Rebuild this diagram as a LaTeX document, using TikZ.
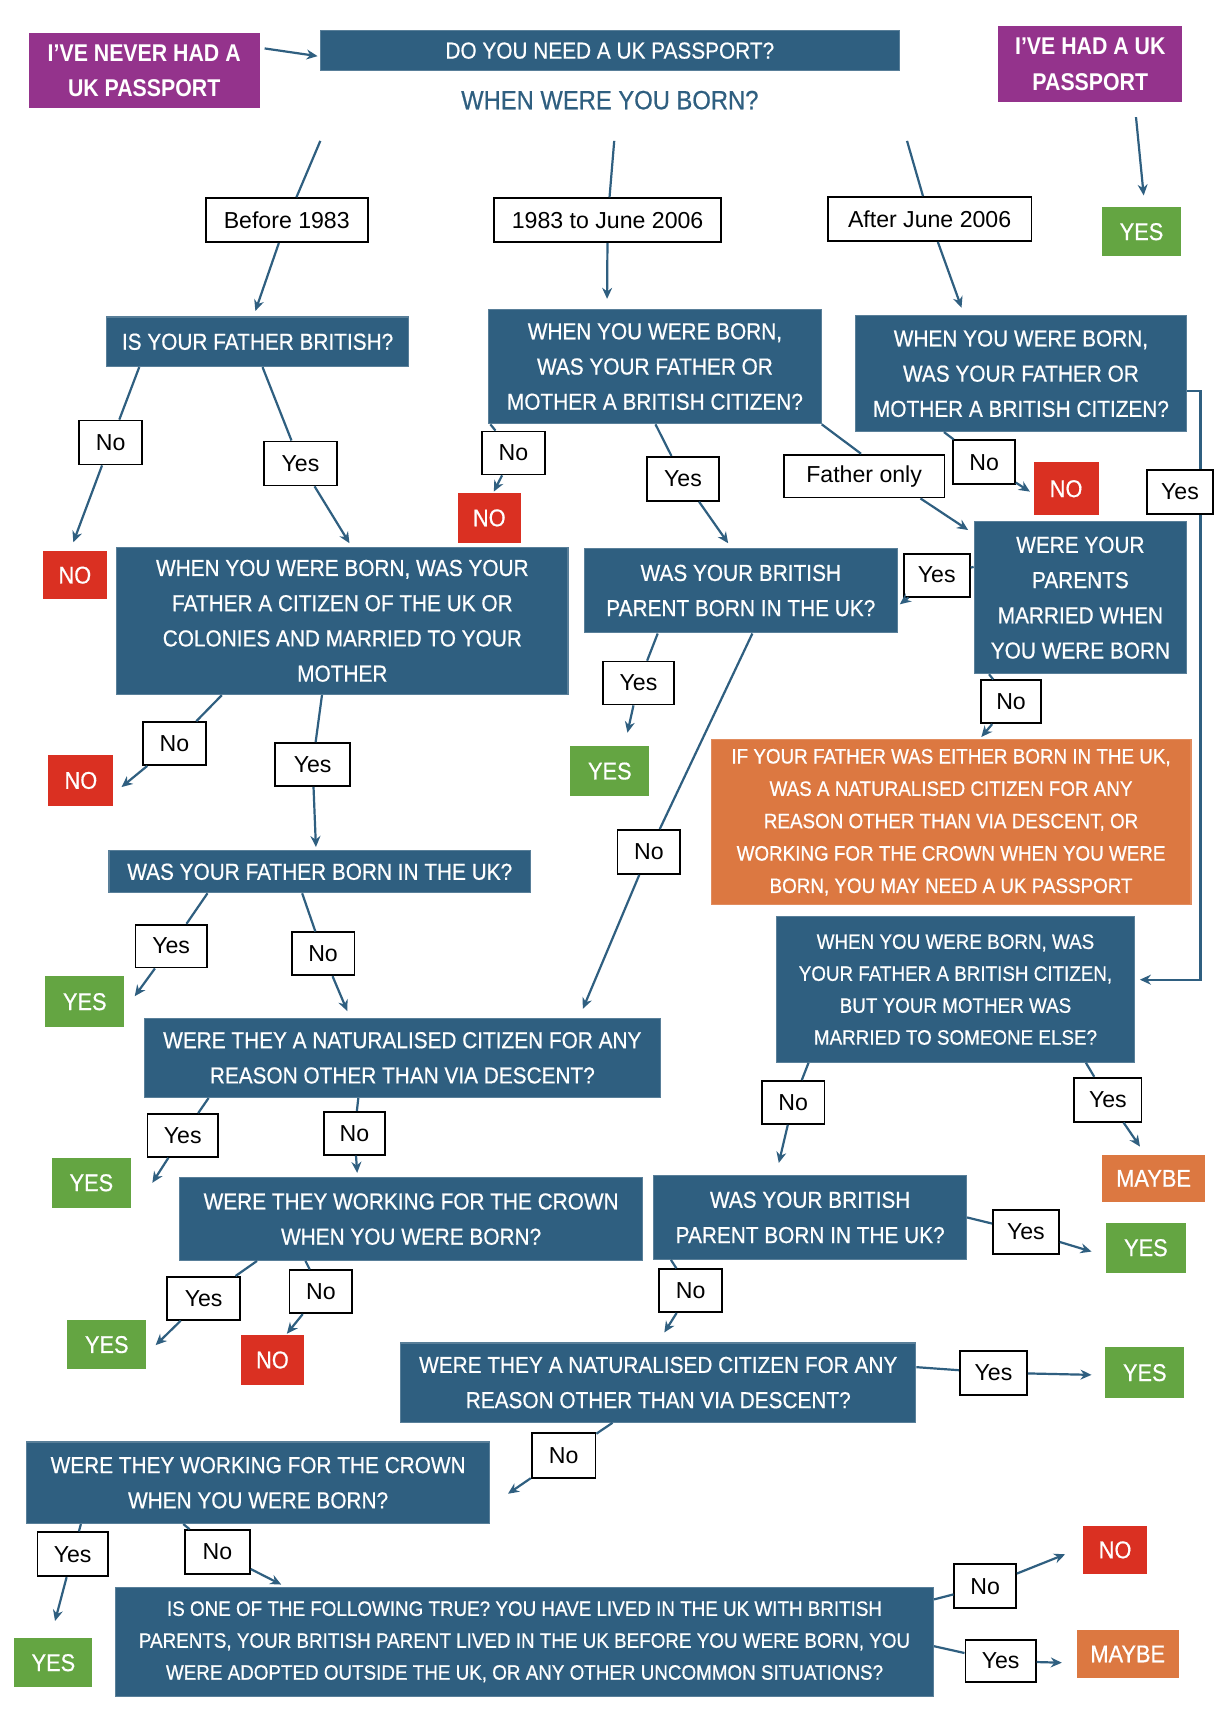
\documentclass[tikz,border=0pt]{standalone}
\usepackage{fontspec}
\setmainfont{Liberation Sans}
\newfontfamily\bxf[FakeStretch=0.9,FakeBold=0.6]{Liberation Sans}
\newfontfamily\pxf[FakeStretch=0.88]{Liberation Sans}
\usetikzlibrary{arrows.meta}
\definecolor{qblue}{HTML}{2F5F80}
\definecolor{ppurple}{HTML}{94338C}
\definecolor{agreen}{HTML}{64A542}
\definecolor{ared}{HTML}{DA3022}
\definecolor{aorange}{HTML}{DC7841}
\newcommand\mkbox[7]{\node[#6, minimum width={(#4-#2)*0.5pt}, minimum height={(#5-#3)*0.5pt}] (#1) at ({(#2+#4)/2},{(#3+#5)/2}) {#7};}
\tikzset{
 qbox/.style={fill=qblue, draw=qblue!80!white, line width=0.5pt, text=white, align=center, inner sep=0pt, font=\bxf\fontsize{10.5pt}{16pt}\selectfont},
 qsmall/.style={qbox, font=\bxf\fontsize{9.5pt}{14.5pt}\selectfont},
 obox/.style={fill=aorange, draw=aorange!85!white, line width=0.5pt, text=white, align=center, inner sep=0pt, font=\bxf\fontsize{9.5pt}{14.7pt}\selectfont},
 lab/.style={fill=white, draw=black, line width=0.8pt, inner sep=0pt, font=\fontsize{10.5pt}{12pt}\selectfont},
 ans/.style={text=white, inner sep=0pt, font=\bxf\fontsize{11pt}{13pt}\selectfont},
 yesbox/.style={ans, fill=agreen},
 nobox/.style={ans, fill=ared},
 maybebox/.style={ans, fill=aorange},
 pbox/.style={fill=ppurple, text=white, align=center, inner sep=0pt, font=\pxf\bfseries\fontsize{11pt}{16pt}\selectfont},
 borntext/.style={text=qblue, inner sep=0pt, font=\bxf\fontsize{12pt}{14pt}\selectfont},
 conn/.style={draw=qblue, line width=1pt},
 arr/.style={conn, -{Stealth[length=5pt,width=4.5pt]}},
}
\begin{document}
\begin{tikzpicture}[x=0.5pt,y=-0.5pt]
\useasboundingbox (0,0) rectangle (1108,1568);
\fill[white] (0,0) rectangle (1108,1568);
% top
\mkbox{never}{26}{30}{236}{98}{pbox}{I’VE NEVER HAD A\\UK PASSPORT}
\mkbox{had}{907}{24}{1074}{93}{pbox}{I’VE HAD A UK\\PASSPORT}
\mkbox{need}{291}{28}{817}{64}{qbox}{DO YOU NEED A UK PASSPORT?}
\node[borntext] (born) at (554,91) {WHEN WERE YOU BORN?};
\mkbox{yes0}{1001}{188}{1073}{233}{yesbox}{YES}
\draw[arr] ([shift={(4,-20)}]never.east) -- ([shift={(-2,5)}]need.west);
\draw[arr] ([shift={(41.5,13)}]had.south) -- ([shift={(2,-10)}]yes0.north);
\coordinate (t1) at (291,128);
\coordinate (t2) at (558,128);
\coordinate (t3) at (824,128);
\mkbox{l1983}{187}{180}{334}{220}{lab}{Before 1983}
\mkbox{l2006}{449}{180}{655}{220}{lab}{1983 to June 2006}
\mkbox{lafter}{752}{179}{937}{219}{lab}{After June 2006}
% level 2 boxes
\mkbox{fbrit}{97}{288}{371}{333}{qbox}{IS YOUR FATHER BRITISH?}
\mkbox{mid}{444}{281}{746}{385}{qbox}{WHEN YOU WERE BORN,\\WAS YOUR FATHER OR\\MOTHER A BRITISH CITIZEN?}
\mkbox{rt}{777}{287}{1078}{392}{qbox}{WHEN YOU WERE BORN,\\WAS YOUR FATHER OR\\MOTHER A BRITISH CITIZEN?}
\draw[conn] (t1) -- (l1983);
\draw[arr] (l1983) -- ([shift={(-2,-5)}]fbrit.north);
\draw[conn] (t2) -- (l2006);
\draw[arr] (l2006) -- ([shift={(108,-9)}]mid.north west);
\draw[conn] (t3) -- (lafter);
\draw[arr] (lafter) -- ([shift={(97,-7)}]rt.north west);
% left branch
\mkbox{lno1}{72}{382}{129}{422}{lab}{No}
\mkbox{no1}{39}{501}{97}{544}{nobox}{NO}
\mkbox{lyes1}{240}{401}{306}{441}{lab}{Yes}
\mkbox{colon}{106}{497}{516}{631}{qbox}{WHEN YOU WERE BORN, WAS YOUR\\FATHER A CITIZEN OF THE UK OR\\COLONIES AND MARRIED TO YOUR\\MOTHER}
\draw[conn] ([shift={(30,0)}]fbrit.south west) -- (lno1);
\draw[arr] (lno1) -- ([shift={(28,-8)}]no1.north west);
\draw[conn] ([shift={(142,0)}]fbrit.south west) -- (lyes1);
\draw[arr] (lyes1) -- ([shift={(212,-3)}]colon.north west);
\mkbox{lno11}{130}{656}{187}{695}{lab}{No}
\mkbox{no11}{44}{686}{103}{732}{nobox}{NO}
\mkbox{lyes11}{250}{675}{318}{714}{lab}{Yes}
\mkbox{fborn}{99}{773}{482}{811}{qbox}{WAS YOUR FATHER BORN IN THE UK?}
\draw[conn] ([shift={(96,0)}]colon.south west) -- (lno11);
\draw[arr] (lno11) -- ([shift={(7,6)}]no11.east);
\draw[conn] ([shift={(187,0)}]colon.south west) -- (lyes11);
\draw[arr] (lyes11) -- ([shift={(-3.5,-3)}]fborn.north);
\mkbox{lyes12}{123}{840}{188}{879}{lab}{Yes}
\mkbox{yes12}{41}{887}{113}{933}{yesbox}{YES}
\mkbox{lno12}{265}{847}{322}{886}{lab}{No}
\mkbox{nat1}{131}{925}{600}{997}{qbox}{WERE THEY A NATURALISED CITIZEN FOR ANY\\REASON OTHER THAN VIA DESCENT?}
\draw[conn] ([shift={(90,0)}]fborn.south west) -- (lyes12);
\draw[arr] (lyes12) -- ([shift={(9,-5)}]yes12.east);
\draw[conn] ([shift={(176,0)}]fborn.south west) -- (lno12);
\draw[arr] (lno12) -- ([shift={(185,-6)}]nat1.north west);
\mkbox{lyes13}{134}{1012}{198}{1051}{lab}{Yes}
\mkbox{yes13}{47}{1052}{119}{1097}{yesbox}{YES}
\mkbox{lno13}{294}{1010}{350}{1049}{lab}{No}
\mkbox{crown1}{163}{1070}{584}{1145}{qbox}{WERE THEY WORKING FOR THE CROWN\\WHEN YOU WERE BORN?}
\draw[conn] ([shift={(59,0)}]nat1.south west) -- (lyes13);
\draw[arr] (lyes13) -- ([shift={(19,0)}]yes13.east);
\draw[conn] ([shift={(195,0)}]nat1.south west) -- (lno13);
\draw[arr] (lno13) -- ([shift={(162,-4)}]crown1.north west);
\mkbox{lyes14}{152}{1160}{218}{1199}{lab}{Yes}
\mkbox{yes14}{61}{1199}{133}{1244}{yesbox}{YES}
\mkbox{lno14}{263}{1154}{320}{1193}{lab}{No}
\mkbox{no14}{219}{1213}{276}{1258}{nobox}{NO}
\draw[conn] ([shift={(71,0)}]crown1.south west) -- (lyes14);
\draw[arr] (lyes14) -- ([shift={(8,0.5)}]yes14.east);
\draw[conn] ([shift={(115,0)}]crown1.south west) -- (lno14);
\draw[arr] (lno14) -- ([shift={(42,-1)}]no14.north west);
% middle branch
\mkbox{lno2}{438}{392}{495}{431}{lab}{No}
\mkbox{no2}{416}{448}{473}{493}{nobox}{NO}
\mkbox{lyes2}{588}{415}{653}{455}{lab}{Yes}
\mkbox{lfo}{712}{413}{858}{452}{lab}{Father only}
\mkbox{bp1}{531}{498}{815}{575}{qbox}{WAS YOUR BRITISH\\PARENT BORN IN THE UK?}
\mkbox{married}{885}{474}{1078}{612}{qbox}{WERE YOUR\\PARENTS\\MARRIED WHEN\\YOU WERE BORN}
\draw[conn] ([shift={(2,0)}]mid.south west) -- (lno2);
\draw[arr] (lno2) -- ([shift={(33,-1)}]no2.north west);
\draw[conn] ([shift={(152,0)}]mid.south west) -- (lyes2);
\draw[arr] (lyes2) -- ([shift={(131,-4)}]bp1.north west);
\draw[conn] (mid.south east) -- ([shift={(71,0)}]lfo.north west);
\draw[arr] ([shift={(125,0)}]lfo.south west) -- ([shift={(-5,8)}]married.north west);
% right branch
\mkbox{lno3}{866}{400}{922}{440}{lab}{No}
\mkbox{no3}{939}{420}{998}{468}{nobox}{NO}
\mkbox{else}{705}{833}{1031}{965}{qsmall}{WHEN YOU WERE BORN, WAS\\YOUR FATHER A BRITISH CITIZEN,\\BUT YOUR MOTHER WAS\\MARRIED TO SOMEONE ELSE?}
\draw[conn] ([shift={(81,0)}]rt.south west) -- (lno3);
\draw[arr] (lno3) -- ([shift={(-3,27)}]no3.north west);
\draw[arr] ([shift={(0,16)}]rt.east) -- ++(12,0) |- ([shift={(4,-9)}]else.east);
\mkbox{lyes3}{1042}{427}{1102}{467}{lab}{Yes}
\mkbox{lyes4}{821}{503}{881}{542}{lab}{Yes}
\mkbox{lno4}{891}{618}{946}{657}{lab}{No}
\mkbox{orange}{646}{672}{1082}{822}{obox}{IF YOUR FATHER WAS EITHER BORN IN THE UK,\\WAS A NATURALISED CITIZEN FOR ANY\\REASON OTHER THAN VIA DESCENT, OR\\WORKING FOR THE CROWN WHEN YOU WERE\\BORN, YOU MAY NEED A UK PASSPORT}
\draw[conn] ([shift={(0,-28)}]married.west) -- (lyes4);
\draw[arr] (lyes4) -- ([shift={(2,12.5)}]bp1.east);
\draw[conn] ([shift={(14,0)}]married.south west) -- (lno4);
\draw[arr] (lno4) -- ([shift={(246,-2)}]orange.north west);
\mkbox{lyes5}{548}{601}{612}{640}{lab}{Yes}
\mkbox{yes5}{518}{678}{590}{723}{yesbox}{YES}
\mkbox{lno5}{561}{754}{618}{794}{lab}{No}
\draw[conn] ([shift={(67,0)}]bp1.south west) -- (lyes5);
\draw[arr] (lyes5) -- ([shift={(16,-12)}]yes5.north);
\draw[conn] ([shift={(153,0)}]bp1.south west) -- (lno5);
\draw[arr] (lno5) -- ([shift={(399,-8)}]nat1.north west);
% lower right
\mkbox{lno6}{692}{982}{749}{1021}{lab}{No}
\mkbox{lyes6}{976}{979}{1037}{1019}{lab}{Yes}
\mkbox{maybe1}{1001}{1049}{1095}{1092}{maybebox}{MAYBE}
\mkbox{bp2}{594}{1068}{878}{1144}{qbox}{WAS YOUR BRITISH\\PARENT BORN IN THE UK?}
\draw[conn] ([shift={(30,0)}]else.south west) -- (lno6);
\draw[arr] (lno6) -- ([shift={(114,-11)}]bp2.north west);
\draw[conn] ([shift={(282,0)}]else.south west) -- (lyes6);
\draw[arr] (lyes6) -- ([shift={(35,-7)}]maybe1.north west);
\mkbox{lyes7}{902}{1099}{962}{1139}{lab}{Yes}
\mkbox{yes7}{1005}{1111}{1077}{1156}{yesbox}{YES}
\mkbox{lno7}{599}{1153}{656}{1192}{lab}{No}
\mkbox{nat2}{364}{1220}{832}{1292}{qbox}{WERE THEY A NATURALISED CITIZEN FOR ANY\\REASON OTHER THAN VIA DESCENT?}
\draw[conn] (bp2.east) -- (lyes7);
\draw[arr] (lyes7) -- ([shift={(-13,3.5)}]yes7.west);
\draw[conn] ([shift={(16,0)}]bp2.south west) -- (lno7);
\draw[arr] (lno7) -- ([shift={(240,-9)}]nat2.north west);
\mkbox{lyes8}{872}{1227}{933}{1267}{lab}{Yes}
\mkbox{yes8}{1004}{1224}{1076}{1270}{yesbox}{YES}
\mkbox{lno8}{483}{1302}{541}{1343}{lab}{No}
\mkbox{crown2}{24}{1310}{445}{1384}{qbox}{WERE THEY WORKING FOR THE CROWN\\WHEN YOU WERE BORN?}
\draw[conn] ([shift={(0,-14)}]nat2.east) -- (lyes8);
\draw[arr] (lyes8) -- ([shift={(-12,2)}]yes8.west);
\draw[conn] ([shift={(193,0)}]nat2.south west) -- (lno8);
\draw[arr] (lno8) -- ([shift={(16,10)}]crown2.east);
% bottom
\mkbox{lyes9}{34}{1392}{98}{1432}{lab}{Yes}
\mkbox{yes9}{13}{1488}{84}{1533}{yesbox}{YES}
\mkbox{lno9}{168}{1390}{227}{1430}{lab}{No}
\mkbox{final}{105}{1442}{848}{1541}{qsmall}{IS ONE OF THE FOLLOWING TRUE? YOU HAVE LIVED IN THE UK WITH BRITISH\\PARENTS, YOUR BRITISH PARENT LIVED IN THE UK BEFORE YOU WERE BORN, YOU\\WERE ADOPTED OUTSIDE THE UK, OR ANY OTHER UNCOMMON SITUATIONS?}
\draw[conn] ([shift={(50,0)}]crown2.south west) -- (lyes9);
\draw[arr] (lyes9) -- ([shift={(1.5,-15)}]yes9.north);
\draw[conn] ([shift={(143,0)}]crown2.south west) -- (lno9);
\draw[arr] (lno9) -- ([shift={(151,-2)}]final.north west);
\mkbox{lno10}{867}{1421}{923}{1461}{lab}{No}
\mkbox{no10}{984}{1386}{1042}{1430}{nobox}{NO}
\mkbox{lyes10}{877}{1490}{941}{1528}{lab}{Yes}
\mkbox{maybe2}{978}{1481}{1071}{1524}{maybebox}{MAYBE}
\draw[conn] ([shift={(0,-38.5)}]final.east) -- (lno10);
\draw[arr] (lno10) -- ([shift={(-16,4)}]no10.west);
\draw[conn] ([shift={(0,4)}]final.east) -- (lyes10);
\draw[arr] (lyes10) -- ([shift={(-13,8)}]maybe2.west);
\end{tikzpicture}
\end{document}
